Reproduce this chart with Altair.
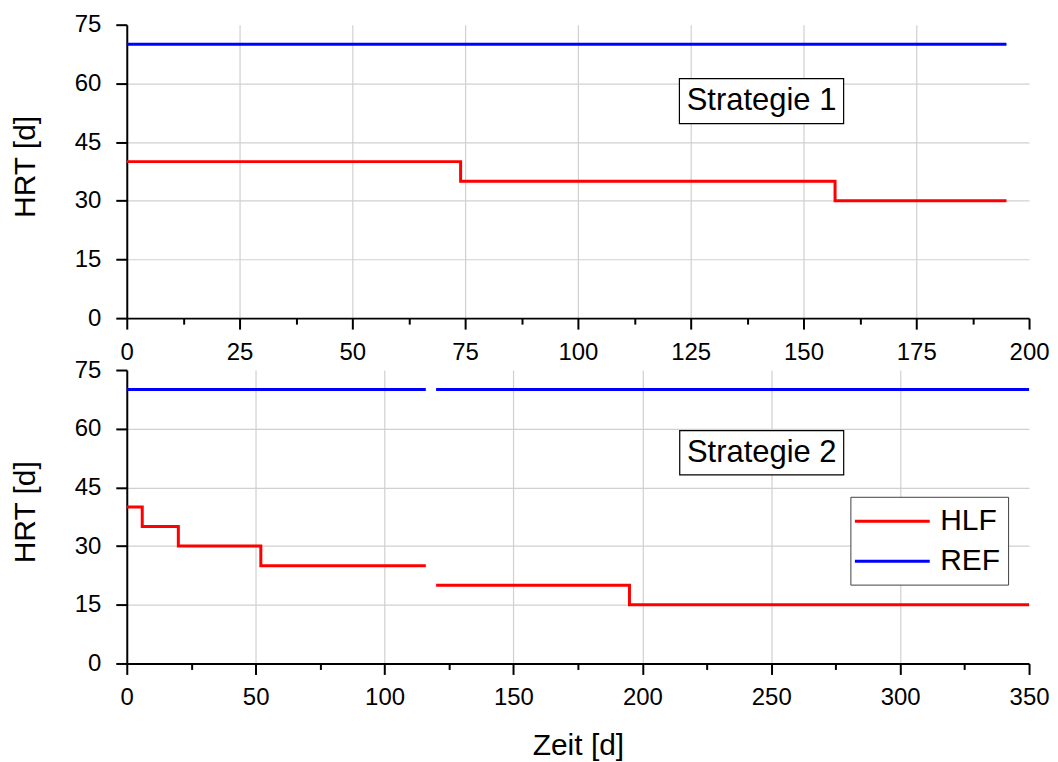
import altair as alt
import pandas as pd

FONT = "Liberation Sans"

series_names = ["HLF", "REF"]
series_colors = ["#ff0000", "#0000ff"]

# ---- Strategie 1 (top panel) ----
s1_hlf_x = [0, 74, 157, 195]
s1_hlf_y = [40, 35, 30, 30]
s1_ref_x = [0, 195]
s1_ref_y = [70, 70]

# ---- Strategie 2 (bottom panel, two segments with a gap) ----
s2_hlf_a_x = [0, 6, 20, 52, 116]
s2_hlf_a_y = [40, 35, 30, 25, 25]
s2_hlf_b_x = [120, 195, 350]
s2_hlf_b_y = [20, 15, 15]
s2_ref_a_x = [0, 116]
s2_ref_a_y = [70, 70]
s2_ref_b_x = [120, 350]
s2_ref_b_y = [70, 70]

# ---- tick values ----
x1_major = [0, 25, 50, 75, 100, 125, 150, 175, 200]
x2_major = [0, 50, 100, 150, 200, 250, 300, 350]
y_major = [0, 15, 30, 45, 60, 75]

# ---- annotation boxes (data units) ----
ann1 = {"label": ["Strategie 1"], "x1": [122.5], "x2": [158.9], "y1": [49.7], "y2": [61.2], "xc": [140.7], "yc": [55.4]}
ann2 = {"label": ["Strategie 2"], "x1": [214.5], "x2": [278.1], "y1": [48.2], "y2": [59.5], "xc": [246.3], "yc": [53.8]}

PANEL_W = 904
PANEL_H = 294


def seg_frame(parts):
    rows = []
    for series, seg, xs, ys in parts:
        for i, (x, y) in enumerate(zip(xs, ys)):
            rows.append({"series": series, "seg": seg, "t": x, "v": y, "o": i})
    return pd.DataFrame(rows)


df1 = seg_frame([("HLF", "a", s1_hlf_x, s1_hlf_y), ("REF", "a", s1_ref_x, s1_ref_y)])
df2 = seg_frame([
    ("HLF", "a", s2_hlf_a_x, s2_hlf_a_y), ("HLF", "b", s2_hlf_b_x, s2_hlf_b_y),
    ("REF", "a", s2_ref_a_x, s2_ref_a_y), ("REF", "b", s2_ref_b_x, s2_ref_b_y),
])


def minors(major):
    return [(a + b) / 2 for a, b in zip(major[:-1], major[1:])]


def make_axis(major, title, grid_inner, label_padding, title_padding, **extra):
    values = sorted(major + minors(major))
    major_list = "[" + ",".join(str(v) for v in major) + "]"
    inner_list = "[" + ",".join(str(v) for v in grid_inner) + "]"
    is_major = f"indexof({major_list}, datum.value) >= 0"
    is_inner = f"indexof({inner_list}, datum.value) >= 0"
    kw = dict(
        values=values,
        labelExpr=f"{is_major} ? datum.label : ''",
        tickSize={"condition": {"test": is_major, "value": 11}, "value": 6},
        gridOpacity={"condition": {"test": is_inner, "value": 1}, "value": 0},
        grid=True,
        gridColor="#d0d0d0",
        gridWidth=1.2,
        domainColor="black",
        domainWidth=2,
        tickColor="black",
        tickWidth=2,
        labelFont=FONT,
        labelFontSize=24,
        labelColor="black",
        labelOverlap=False,
        labelFlush=False,
        labelPadding=label_padding,
        titleFont=FONT,
        titleFontSize=30,
        titleFontWeight="normal",
        titleColor="black",
        titlePadding=title_padding,
    )
    kw.update(extra)
    kw["title"] = title
    return alt.Axis(**kw)


color_scale = alt.Scale(domain=series_names, range=series_colors)


def panel(df, xmax, xmajor, xtitle, ann, show_legend):
    xaxis = make_axis(xmajor, xtitle, xmajor[1:-1], 11, 21)
    yaxis = make_axis(y_major, "HRT [d]", y_major[1:-1], 15, 34, titleY=142)
    xs = alt.Scale(domain=[0, xmax], nice=False, zero=True)
    ysc = alt.Scale(domain=[0, 75], nice=False)

    if show_legend:
        legend = alt.Legend(
            orient="none", legendX=725, legendY=127, title=None,
            symbolType="M-1.333,0H3.667", symbolSize=900, symbolStrokeWidth=3,
            labelFont=FONT, labelFontSize=30, labelColor="black",
            labelOffset=49, fillColor="white", strokeColor="#404040",
            padding=8, rowPadding=8, cornerRadius=0,
        )
    else:
        legend = None

    lines = alt.Chart(df).mark_line(strokeWidth=3, interpolate="step-after").encode(
        x=alt.X("t:Q", scale=xs, axis=xaxis),
        y=alt.Y("v:Q", scale=ysc, axis=yaxis),
        color=alt.Color("series:N", scale=color_scale, legend=legend),
        detail="seg:N",
        order="o:Q",
    )
    adf = pd.DataFrame(ann)
    box = alt.Chart(adf).mark_rect(fill="white", stroke="black", strokeWidth=1.2).encode(
        x="x1:Q", x2="x2:Q", y="y1:Q", y2="y2:Q",
    )
    txt = alt.Chart(adf).mark_text(font=FONT, fontSize=31, color="black", align="center", baseline="middle").encode(
        x="xc:Q", y="yc:Q", text="label:N",
    )
    return alt.layer(lines, box, txt).properties(width=PANEL_W, height=PANEL_H)


top = panel(df1, 200, x1_major, None, ann1, False)
bottom = panel(df2, 350, x2_major, "Zeit [d]", ann2, True)

chart = alt.vconcat(top, bottom, spacing=52, bounds="flush").resolve_scale(
    color="independent"
).configure_view(stroke=None).properties(padding={"left": 2, "top": 4, "right": 0, "bottom": 0})

chart.save("out.html", embed_options={"renderer": "svg", "actions": False})
